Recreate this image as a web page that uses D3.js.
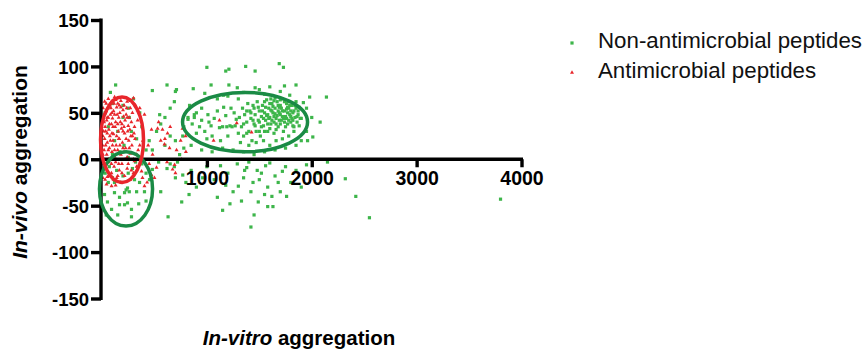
<!DOCTYPE html>
<html><head><meta charset="utf-8">
<script src="https://cdn.jsdelivr.net/npm/d3@7"></script>
<style>body{margin:0;background:#fff}svg{display:block}text{font-family:"Liberation Sans",Arial,sans-serif}</style>
</head><body><div id="chart"></div>
<script>
const xTicks = [1000, 2000, 3000, 4000];
const yTicks = [-150, -100, -50, 0, 50, 100, 150];
const seriesNames = ["Non-antimicrobial peptides", "Antimicrobial peptides"];
const xTitle = ["In-vitro", " aggregation"];
const yTitle = ["In-vivo", " aggregation"];

// Non-antimicrobial peptides [in-vitro, in-vivo]
const nonAmp = [
[1000,99],[1210,97],[1180,95],[1370,100],[1460,95],[1690,103],[1730,99],[1040,80],[1210,80],[1290,77],[1460,77],[1740,79],[1700,73],[1790,69],[980,71],[1160,69],[1550,70],[1980,67],[1920,61],[2140,67],[2080,40],[1900,44],[1830,30],[2010,24],[1960,20],[620,80],[710,75],[480,74],[650,55],[700,73],[870,76],[600,45],[690,62],[550,48],[835,58],[880,48],[820,43],[930,35],
[80,72],[130,80],[200,58],[260,45],[300,65],[360,50],[150,30],[210,15],[330,22],[380,35],[420,10],[100,5],[250,2],[320,-3],
[820,45],[860,38],[900,50],[950,42],[980,30],[1010,48],[1040,36],[1070,44],[1100,52],[1120,34],[1150,35],[1180,47],[1200,25],[1220,36],[1240,35],[1260,50],[1280,43],[1300,28],[900,28],[950,55],[1000,22],[1050,25],[1130,20],[1160,56],[1230,55],[1020,40],[880,45],[1190,35],[1270,36],
[1310,45],[1330,35],[1340,55],[1350,25],[1360,48],[1380,40],[1390,60],[1400,30],[1410,52],[1420,44],[1430,20],[1440,58],[1450,38],[1460,48],[1470,30],[1480,62],[1490,42],[1500,52],[1510,25],[1520,46],[1530,58],[1540,36],[1550,50],[1560,42],[1570,64],[1580,30],[1590,55],[1600,45],[1610,38],[1620,60],[1630,50],[1640,28],[1650,55],[1660,44],[1670,62],[1680,35],[1690,50],[1700,58],[1710,42],[1720,65],[1730,30],[1740,52],[1750,46],[1760,60],[1770,38],[1780,55],[1790,48],[1800,40],[1810,58],[1820,50],[1830,35],[1840,45],[1850,55],[1860,40],[1870,48],[1880,36],[1890,44],
[1320,18],[1400,15],[1470,18],[1540,20],[1600,15],[1660,20],[1720,22],[1780,25],[1450,55],[1520,35],[1580,48],[1640,40],[1700,48],[1760,44],[1820,42],[1560,56],[1620,52],[1680,58],[1740,40],[1800,52],[1500,40],[1550,30],[1610,65],[1660,32],[1710,55],[1770,50],[1850,62],[1440,42],[1380,52],[1350,38],
[1590,44],[1630,57],[1670,47],[1720,52],[1750,35],[1790,58],[1830,52],[1690,42],[1650,49],[1610,53],[1570,47],[1530,52],[1490,56],
[1600,60],[1640,63],[1680,52],[1720,46],[1760,54],[1800,46],[1840,58],[1870,52],[1620,42],[1660,38],[1700,38],[1740,62],[1780,42],[1820,36],[1580,38],[1540,44],[1500,30],[1460,36],[1420,50],[1380,28],[1550,62],[1650,66],[1700,64],[1780,62],[1860,46],[1880,56],[1600,33],[1640,46],[1690,56],[1730,44],[1770,56],[1810,44],
[780,35],[770,25],[850,15],[950,10],[1050,8],[1150,12],[1250,10],[1350,8],[1450,5],[1550,8],[1650,10],[1750,12],[1850,15],[1950,30],[1900,20],[2000,45],[1950,55],[1200,68],[1350,72],[1500,75],[1600,78],[1850,80],[1100,65],[1300,65],
[1000,-8],[1130,-7],[1290,-5],[1380,-9],[1560,-7],[1720,-13],[1070,-22],[1300,-29],[1440,-25],[1580,-30],[1700,-35],[1760,-40],[1100,-41],[1220,-48],[1490,-46],[1580,-51],[1630,-51],[1420,-73],[2320,-21],[2420,-40],[2550,-63],[3800,-43],[830,-38],[760,-46],[630,-62],[560,-35],[900,-30],[1200,-15],[1350,-20],[1650,-18],[1850,-12],[1950,-6],[2150,-3],[1480,-12],[1250,-35],[1800,-25],[960,-20],[2060,-15],[1900,-30],[700,-20],[850,-12],[650,-5],[1550,-38],[1150,-55],[1330,-45],[1450,-60],
[1400,-3],[1520,-15],[1600,-4],[1680,-25],[1750,-8],[1420,-35],[1360,-12],[1500,-22],[1620,-40],[1180,-28],
[450,20],[520,30],[560,38],[600,15],[650,25],[700,20],[740,5],[780,12],[480,10],[540,-3],[620,-10],[690,-8],[720,-3],[770,-17],[800,-25],
[243,-31],[230,-33],[260,-35],[330,-35],[358,-25],[405,-35],[243,-47],[281,-54],[281,-62],[91,-54],[24,-38],[52,-46],[167,-49],[215,-49],[119,-36],[215,-36],[167,-41],[186,-25],[119,-25],[310,-22],[453,-22],[480,-11],[30,-15],[70,-8],[140,-12],[200,-18],[380,-5],[420,-45],[150,-60],[60,-25],[100,-20],[290,-10],[350,-48],[40,-60],[420,-15],[250,-15],
[30,50],[60,35],[120,20],[200,45],[100,60],[250,55],[280,30],[170,8]
];

// Antimicrobial peptides [in-vitro, in-vivo]
const amp = [
[40,60],[60,65],[90,62],[120,67],[150,60],[180,63],[210,58],[240,62],[270,55],[300,66],[30,50],[55,55],[80,48],[110,52],[140,56],[170,50],[200,53],[230,48],[260,45],[290,50],[320,58],[20,40],[45,42],[70,38],[100,44],[130,40],[160,45],[190,38],[220,42],[250,36],[280,40],[310,35],[35,30],[65,32],[95,28],[125,35],[155,30],[185,33],[215,28],[245,30],[275,25],[305,28],[340,42],[360,55],
[10,55],[15,30],[5,15],[12,-10],[25,62],[75,58],[105,35],[145,48],[175,40],[205,46],[235,55],[265,32],[85,55],[115,60],[50,45],[160,22],[200,30],[120,10],[60,0],[90,-5],
[8,45],[8,25],[8,5],[8,-20],[30,35],[50,28],[80,20],[110,27],[140,25],[170,15],[200,12],[230,22],[260,12],[290,25],[35,15],[60,10],[100,15],[130,-3],[160,-5],[190,-15],[220,0],[250,-5],[280,-12],[310,-2],[70,-18],[110,-22],[150,-18],[30,-22],[60,45],[90,38],[120,48],[150,38],[180,56],[210,35],[240,45],[270,63],[40,52],[95,50],[130,64],[165,58],
[25,22],[50,18],[75,25],[105,20],[135,15],[165,22],[195,18],[225,12],[255,20],[285,15],[315,22],[345,10],[20,10],[45,5],[70,12],[95,8],[120,3],[150,10],[180,5],[210,8],[240,2],[270,6],[300,0],[330,5],[360,15],[390,20],
[20,-5],[40,-10],[65,-3],[90,-15],[115,-8],[140,-20],[165,-12],[190,-5],[215,-18],[240,-10],[270,-22],[300,-15],[52,-19],[43,-27],[91,-29],[130,-28],[180,-25],[377,-13],[386,-20],[405,-29],[330,-8],
[405,48],[339,53],[472,32],[530,33],[577,32],[625,28],[596,16],[644,12],[711,10],[482,5],[520,-9],[472,-17],[673,-11],[692,-6],[600,22],[650,35],[560,20],[440,15],[500,-20],[620,-3],[700,-15],[540,40],[750,20],[760,0],[800,8],[797,25],[768,33],[450,-5],[430,-25],
[1064,20],[1285,39],[1426,29],[1120,42]
];

// highlight ellipses: [cx, cy, rx, ry] in data units
const ellipseRedAmp = [191, 21, 205, 46];
const ellipseGreenLow = [229, -32, 253, 40];
const ellipseGreenHigh = [1364, 40, 596, 32];

const W = 868, H = 349;
const svg = d3.select("#chart").append("svg").attr("width", W).attr("height", H);
const x = d3.scaleLinear().domain([0, 4000]).range([102, 521.5]);
const y = d3.scaleLinear().domain([-150, 150]).range([298.5, 20]);

const green = "#3db54a", red = "#e8262b", darkGreen = "#1a8a45";

// points
svg.append("g").selectAll("rect").data(nonAmp).join("rect")
  .attr("x", d => x(d[0]) - 1.6).attr("y", d => y(d[1]) - 1.6)
  .attr("width", 3.2).attr("height", 3.2).attr("fill", green);
const tri = d3.symbol().type(d3.symbolTriangle).size(7);
svg.append("g").selectAll("path").data(amp).join("path")
  .attr("d", tri).attr("transform", d => `translate(${x(d[0])},${y(d[1])})`)
  .attr("fill", red);

// axes
const fmt = d => String(d);
const xAxis = svg.append("g").attr("transform", `translate(0,${y(0)})`)
  .call(d3.axisBottom(x).tickValues(xTicks).tickSize(8).tickPadding(4).tickFormat(fmt));
xAxis.select(".domain").attr("d", `M${x(0)-1.5},0H${x(4000)+1.5}`);
const yAxis = svg.append("g").attr("transform", `translate(101,0)`)
  .call(d3.axisLeft(y).tickValues(yTicks).tickSize(10).tickPadding(2).tickFormat(fmt));
yAxis.select(".domain").attr("d", `M0,${y(150)-1.5}V${y(-150)+1.5}`);
[xAxis, yAxis].forEach(g => {
  g.selectAll(".domain, .tick line").attr("stroke", "#000").attr("stroke-width", 3.4);
  g.selectAll("text").attr("fill", "#000").attr("font-weight", "bold")
    .style("font-family", '"Liberation Sans", Arial, sans-serif');
});
xAxis.selectAll("text").attr("font-size", 19.5);
yAxis.selectAll("text").attr("font-size", 18.5).attr("dy", "0.36em");

// ellipses
function ell(e, color) {
  svg.append("ellipse")
    .attr("cx", x(e[0])).attr("cy", y(e[1]))
    .attr("rx", x(e[0] + e[2]) - x(e[0])).attr("ry", y(e[1] - e[3]) - y(e[1]))
    .attr("fill", "none").attr("stroke", color).attr("stroke-width", 3.5);
}
ell(ellipseGreenLow, darkGreen);
ell(ellipseRedAmp, red);
ell(ellipseGreenHigh, darkGreen);

// titles
const xt = svg.append("text").attr("x", 299).attr("y", 345).attr("text-anchor", "middle")
  .attr("font-size", 20.5).attr("font-weight", "bold");
xt.append("tspan").attr("font-style", "italic").text(xTitle[0]);
xt.append("tspan").text(xTitle[1]);
const yt = svg.append("text").attr("transform", "translate(27,162) rotate(-90)").attr("text-anchor", "middle")
  .attr("font-size", 21).attr("font-weight", "bold");
yt.append("tspan").attr("font-style", "italic").text(yTitle[0]);
yt.append("tspan").text(yTitle[1]);

// legend
const leg = svg.append("g");
leg.append("rect").attr("x", 570.4).attr("y", 41.4).attr("width", 3.2).attr("height", 3.2).attr("fill", green);
leg.append("path").attr("d", tri).attr("transform", "translate(572,72.5)").attr("fill", red);
leg.append("text").attr("x", 598).attr("y", 47.5).attr("font-size", 22.3).attr("fill", "#111").text(seriesNames[0]);
leg.append("text").attr("x", 598).attr("y", 77.5).attr("font-size", 22.3).attr("fill", "#111").text(seriesNames[1]);
</script></body></html>
